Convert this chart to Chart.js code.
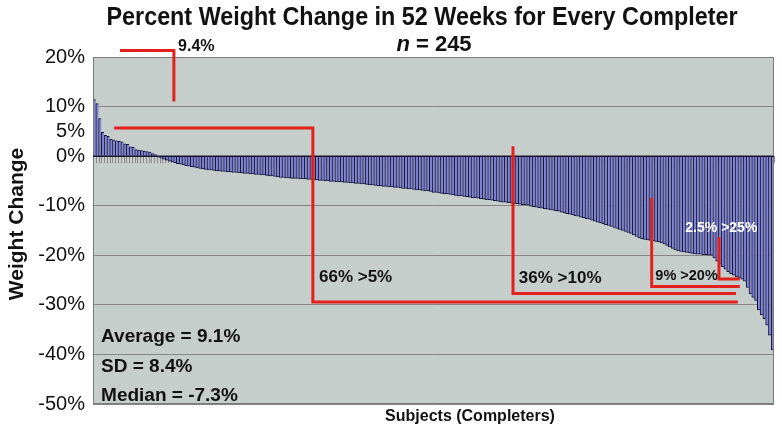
<!DOCTYPE html>
<html>
<head>
<meta charset="utf-8">
<script src="https://cdn.jsdelivr.net/npm/chart.js@4"></script>
<style>
  html, body { margin: 0; padding: 0; background: #fff; }
  #wrap { width: 782px; height: 430px; }
</style>
</head>
<body>
<div id="wrap"><canvas id="chart" width="782" height="430"></canvas></div>
<script>
// percent weight change at 52 weeks, one bar per completer, sorted high to low (n = 245)
const weightChange = [
  11.4, 10.6, 7.6, 4.8, 4.2, 4.0, 3.4, 3.3, 3.1, 3.0, 2.9, 2.5, 2.4, 1.9, 1.8, 1.3, 1.2, 1.1, 1.0, 0.9, 0.8, 0.5, 0.3,
  -0.2, -0.4, -0.6, -0.8, -1.0, -1.1, -1.3, -1.5, -1.6, -1.7, -1.9, -2.0, -2.1, -2.2, -2.4, -2.5, -2.6, -2.7, -2.8, -2.8,
  -2.9, -3.0, -3.0, -3.1, -3.1, -3.2, -3.2, -3.3, -3.3, -3.4, -3.4, -3.5, -3.5, -3.6, -3.6, -3.7, -3.7,
  -3.8, -3.8, -3.9, -4.0, -4.0, -4.1, -4.2, -4.3, -4.3, -4.4, -4.4, -4.5, -4.5, -4.5, -4.6, -4.6, -4.6, -4.7, -4.7,
  -4.8, -4.8, -4.9, -4.9,
  -5.0, -5.0, -5.1, -5.1, -5.2, -5.2, -5.2, -5.3, -5.3, -5.4, -5.4, -5.5, -5.5, -5.6, -5.6, -5.7, -5.8, -5.8, -5.9, -6.0,
  -6.0, -6.1, -6.1, -6.2, -6.2, -6.3, -6.3, -6.4, -6.5, -6.5, -6.6, -6.6, -6.7, -6.8, -6.8, -6.9, -7.0, -7.0, -7.1,
  -7.3, -7.3, -7.4, -7.5, -7.6, -7.6, -7.7, -7.8, -7.9, -8.0, -8.0, -8.1, -8.2, -8.3, -8.4, -8.4, -8.5, -8.6, -8.7, -8.8,
  -8.8, -8.9, -9.0, -9.1, -9.2, -9.3, -9.3, -9.4, -9.5, -9.6, -9.6, -9.7, -9.8, -9.8, -9.9,
  -10.1, -10.2, -10.3, -10.4, -10.5, -10.6, -10.7, -10.8, -10.9, -11.0,
  -11.1, -11.3, -11.4, -11.6, -11.7, -11.8, -12.0, -12.1, -12.3, -12.4,
  -12.6, -12.7, -12.9, -13.1, -13.3, -13.4, -13.6, -13.8, -14.0, -14.2,
  -14.4, -14.6, -14.8, -15.0, -15.2, -15.4, -15.6, -15.9, -16.2, -16.5,
  -16.7, -16.8, -16.9, -17.0, -17.1,
  -17.2, -17.3, -17.5, -17.7, -18.0, -18.3, -18.6, -18.9, -19.1, -19.2,
  -19.3, -19.4, -19.5, -19.6, -19.7, -19.8, -19.8, -19.9, -19.9, -20.0, -20.0,
  -20.5, -21.2, -21.8, -22.3, -22.8, -23.3, -23.7, -24.0, -24.3, -24.5, -24.8, -25.2, -26.5, -27.8, -28.5, -29.1,
  -31.0, -32.0, -32.8, -34.1, -36.1, -39.1
];
const subjects = weightChange.map((v, i) => String(i + 1));

const yTicks = [20, 10, 5, 0, -10, -20, -30, -40, -50];

// red bracket lines, [subject index, percent] pairs
const bracketLines = [
  [[9.2, 21.3], [28.6, 21.3], [28.6, 11.0]],
  [[7.1, 5.7], [78.6, 5.7], [78.6, -29.4], [231.5, -29.4]],
  [[150.6, 2.0], [150.6, -27.7], [230.8, -27.7]],
  [[200.5, -8.4], [200.5, -26.3], [232.2, -26.3]],
  [[224.7, -16.3], [224.7, -24.8], [232.2, -24.8]]
];
const bracketLabels = [
  { text: '9.4%', at: [30.1, 22.0], size: 16, color: '#111' },
  { text: '66% >5%', at: [80.8, -24.4], size: 17, color: '#111' },
  { text: '36% >10%', at: [152.7, -24.6], size: 17, color: '#111' },
  { text: '9% >20%', at: [201.8, -24.1], size: 14.5, color: '#111' },
  { text: '2.5% >25%', at: [212.6, -14.5], size: 14, color: '#fff' }
];
const statLines = ['Average = 9.1%', 'SD = 8.4%', 'Median = -7.3%'];
const statValues = [-36.5, -42.4, -48.3];

const FONT = '"Liberation Sans", Arial, sans-serif';

const decorPlugin = {
  id: 'decor',
  beforeDraw(chart) {
    const { ctx, chartArea: a } = chart;
    ctx.save();
    ctx.fillStyle = '#c6cecc';
    ctx.fillRect(a.left, a.top, a.right - a.left, a.bottom - a.top);
    ctx.restore();
  },
  beforeDatasetsDraw(chart) {
    // category tick marks hanging below the 0% line
    const { ctx, scales: { x, y } } = chart;
    const y0 = y.getPixelForValue(0);
    ctx.save();
    ctx.strokeStyle = '#8a8a8a';
    ctx.lineWidth = 1;
    for (let i = 0; i <= weightChange.length; i++) {
      const px = Math.round(x.getPixelForValue(i - 0.5)) + 0.5;
      ctx.beginPath();
      ctx.moveTo(px, y0);
      ctx.lineTo(px, y0 + 7);
      ctx.stroke();
    }
    ctx.restore();
  },
  afterDraw(chart) {
    const { ctx, chartArea: a, scales: { x, y } } = chart;
    ctx.save();

    // plot border
    ctx.strokeStyle = '#7a7a7a';
    ctx.lineWidth = 1;
    ctx.strokeRect(a.left + 0.5, a.top + 0.5, a.right - a.left - 1, a.bottom - a.top - 1);

    // zero line
    ctx.strokeStyle = '#141430';
    ctx.lineWidth = 1.5;
    const y0 = y.getPixelForValue(0);
    ctx.beginPath();
    ctx.moveTo(a.left, y0);
    ctx.lineTo(a.right, y0);
    ctx.stroke();

    // red brackets
    ctx.strokeStyle = '#e3201b';
    ctx.lineWidth = 3;
    ctx.lineJoin = 'miter';
    bracketLines.forEach(pts => {
      ctx.beginPath();
      pts.forEach(([i, v], k) => {
        const px = x.getPixelForValue(i), py = y.getPixelForValue(v);
        if (k === 0) ctx.moveTo(px, py); else ctx.lineTo(px, py);
      });
      ctx.stroke();
    });

    ctx.textBaseline = 'middle';
    ctx.textAlign = 'left';
    bracketLabels.forEach(l => {
      ctx.font = `bold ${l.size}px ${FONT}`;
      ctx.fillStyle = l.color;
      ctx.fillText(l.text, x.getPixelForValue(l.at[0]), y.getPixelForValue(l.at[1]));
    });

    ctx.font = `bold 19px ${FONT}`;
    ctx.fillStyle = '#111';
    statLines.forEach((t, k) => {
      ctx.fillText(t, x.getPixelForValue(2.4), y.getPixelForValue(statValues[k]));
    });

    // title, condensed like the original
    ctx.textBaseline = 'alphabetic';
    ctx.textAlign = 'center';
    ctx.font = `bold 26px ${FONT}`;
    const title = 'Percent Weight Change in 52 Weeks for Every Completer';
    const tw = ctx.measureText(title).width;
    ctx.save();
    ctx.translate(422, 25);
    ctx.scale(631 / tw, 1);
    ctx.fillText(title, 0, 0);
    ctx.restore();

    // n = 245 with italic n
    ctx.textAlign = 'left';
    ctx.font = `italic bold 22px ${FONT}`;
    const nW = ctx.measureText('n').width;
    ctx.font = `bold 22px ${FONT}`;
    const restW = ctx.measureText(' = 245').width;
    const sx = 434 - (nW + restW) / 2;
    ctx.font = `italic bold 22px ${FONT}`;
    ctx.fillText('n', sx, 51);
    ctx.font = `bold 22px ${FONT}`;
    ctx.fillText(' = 245', sx + nW, 51);

    // axis titles
    ctx.textAlign = 'center';
    ctx.font = `bold 16px ${FONT}`;
    ctx.fillText('Subjects (Completers)', 470, 421);

    ctx.save();
    ctx.translate(23, 224);
    ctx.rotate(-Math.PI / 2);
    ctx.font = `bold 21px ${FONT}`;
    ctx.fillText('Weight Change', 0, 0);
    ctx.restore();

    ctx.restore();
  }
};

new Chart(document.getElementById('chart'), {
  type: 'bar',
  data: {
    labels: subjects,
    datasets: [{
      data: weightChange,
      backgroundColor: '#8286cc',
      borderColor: '#12123a',
      borderWidth: { left: 1, right: 0, top: 1, bottom: 1 },
      borderSkipped: 'start',
      barPercentage: 1,
      categoryPercentage: 1
    }]
  },
  options: {
    responsive: false,
    devicePixelRatio: 1,
    animation: false,
    layout: { padding: { top: 57, right: 8, left: 0, bottom: 0 } },
    plugins: { legend: { display: false }, tooltip: { enabled: false }, title: { display: false } },
    scales: {
      x: {
        grid: { display: false },
        border: { display: false },
        ticks: { display: false },
        afterFit(scale) { scale.height = 26; }
      },
      y: {
        min: -50,
        max: 20,
        afterBuildTicks(scale) { scale.ticks = yTicks.map(v => ({ value: v })); },
        afterFit(scale) { scale.width = 93; },
        border: { display: false },
        grid: {
          drawTicks: false,
          lineWidth: 1,
          color: c => (c.tick && c.tick.value === 5) ? 'rgba(0,0,0,0)' : '#858585'
        },
        ticks: {
          padding: 8,
          color: '#111',
          font: { family: FONT, size: 20 },
          callback: v => v + '%'
        }
      }
    }
  },
  plugins: [decorPlugin]
});
</script>
</body>
</html>
